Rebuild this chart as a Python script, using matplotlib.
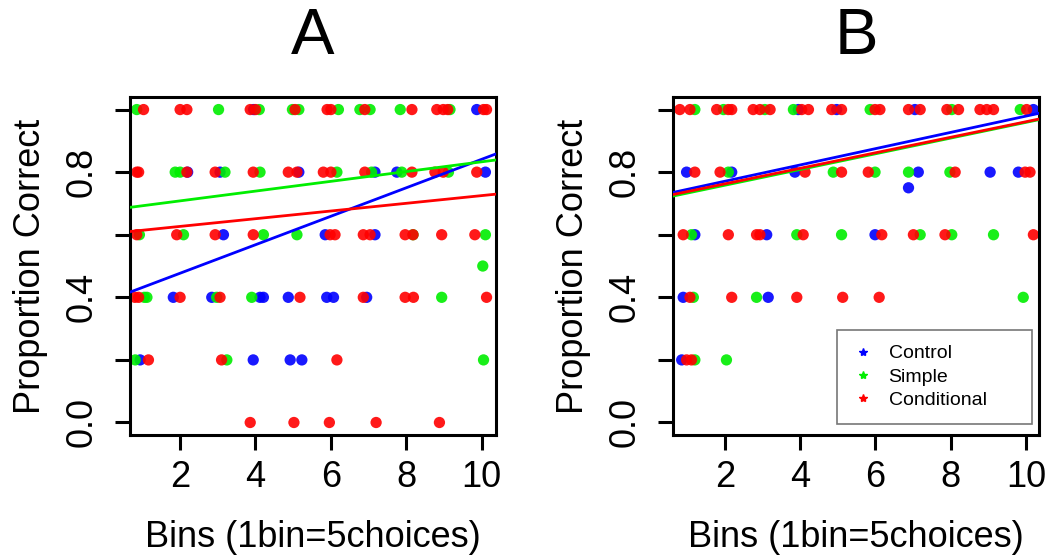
import matplotlib
matplotlib.use("Agg")
import matplotlib.pyplot as plt
from matplotlib.lines import Line2D

plt.rcParams['font.family'] = ['Liberation Sans', 'DejaVu Sans']

groups = ["Control", "Simple", "Conditional"]
colors = {"Control": "#0000FF", "Simple": "#00EE00", "Conditional": "#FF0000"}

# ---------------- Panel A data (jittered bins, proportion correct) ----------------
A_control_x = [3.95, 9.87, 2.2, 3.06, 5.15, 7.17, 7.75, 10.1, 3.15, 5.85, 7.17,
               1.82, 2.84, 4.12, 4.21, 4.87, 5.89, 6.07, 6.95, 0.94, 3.94, 4.92, 5.23]
A_control_y = [1.0, 1.0, 0.8, 0.8, 0.8, 0.8, 0.8, 0.8, 0.6, 0.6, 0.6,
               0.4, 0.4, 0.4, 0.4, 0.4, 0.4, 0.4, 0.4, 0.2, 0.2, 0.2, 0.2]

A_simple_x = [0.85, 3.02, 4.1, 4.98, 5.15, 6.2, 6.77, 7.04, 7.84, 9.16,
              1.87, 2.0, 3.19, 4.12, 6.16, 7.08, 7.88, 9.12,
              0.92, 2.09, 4.21, 5.1, 8.18, 10.1, 10.03,
              1.05, 1.12, 2.97, 3.9, 8.94, 0.81, 3.24, 10.05]
A_simple_y = [1.0, 1.0, 1.0, 1.0, 1.0, 1.0, 1.0, 1.0, 1.0, 1.0,
              0.8, 0.8, 0.8, 0.8, 0.8, 0.8, 0.8, 0.8,
              0.6, 0.6, 0.6, 0.6, 0.6, 0.6, 0.5,
              0.4, 0.4, 0.4, 0.4, 0.4, 0.2, 0.2, 0.2]

A_cond_x = [1.03, 2.0, 2.18, 3.86, 4.0, 5.05, 5.9, 6.0, 6.9, 8.15, 8.81, 8.98, 9.1, 10.05, 10.13,
            0.85, 0.9, 2.18, 2.93, 3.94, 4.87, 5.1, 5.8, 6.0, 6.9, 8.15, 8.76, 8.98, 9.87,
            0.85, 1.91, 2.93, 3.94, 5.98, 6.11, 6.86, 7.04, 7.97, 8.18, 8.94, 9.82,
            0.8, 0.9, 2.0, 3.06, 5.18, 6.86, 7.97, 8.19, 10.13,
            1.16, 3.1, 6.16,
            3.86, 5.02, 5.96, 7.2, 8.88]
A_cond_y = [1.0] * 15 + [0.8] * 14 + [0.6] * 12 + [0.4] * 9 + [0.2] * 3 + [0.0] * 5

# ---------------- Panel B data ----------------
B_control_x = [3.95, 4.97, 7.05, 10.2, 0.98, 2.18, 3.86, 7.14, 9.05, 9.8, 6.88,
               1.2, 3.11, 5.99, 0.89, 3.15, 0.85]
B_control_y = [1.0, 1.0, 1.0, 1.0, 0.8, 0.8, 0.8, 0.8, 0.8, 0.8, 0.75,
               0.6, 0.6, 0.6, 0.4, 0.4, 0.2]

B_simple_x = [1.2, 1.96, 3.06, 3.82, 5.86, 8.03, 9.85,
              2.09, 4.88, 5.99, 6.88, 7.98,
              1.11, 3.91, 5.1, 7.19, 8.03, 9.14,
              1.16, 2.84, 9.93, 1.2, 2.04]
B_simple_y = [1.0] * 7 + [0.8] * 5 + [0.6] * 6 + [0.4] * 3 + [0.2] * 2

B_cond_x = [0.8, 1.07, 1.78, 2.09, 2.18, 2.75, 2.93, 3.2, 4.04, 4.22, 4.84, 5.1, 5.99, 6.12,
            6.88, 7.19, 7.9, 8.21, 8.78, 8.96, 9.14, 10.02,
            1.2, 1.87, 4.13, 5.1, 5.81, 8.12, 9.98, 10.11,
            0.89, 2.09, 2.84, 2.93, 4.08, 6.17, 7.01, 7.85, 10.2,
            1.07, 2.18, 3.91, 5.13, 6.1,
            0.98, 1.11]
B_cond_y = [1.0] * 22 + [0.8] * 8 + [0.6] * 9 + [0.4] * 5 + [0.2] * 2

# ---------------- Regression lines (intercept, slope) ----------------
A_intercepts = [0.386, 0.677, 0.602]
A_slopes = [0.0455, 0.0156, 0.0123]
B_intercepts = [0.719, 0.708, 0.713]
B_slopes = [0.026, 0.0251, 0.0248]

x_ticks = [2, 4, 6, 8, 10]
y_ticks = [0.0, 0.4, 0.8]
y_minor_ticks = [0.2, 0.6, 1.0]

fig = plt.figure(figsize=(10.49, 5.58), dpi=100)
axA = fig.add_axes([0.1239, 0.2204, 0.3489, 0.6057])
axB = fig.add_axes([0.6416, 0.2204, 0.3489, 0.6057])

panels = [
    (axA, "A", (0.67, 10.38),
     [(A_control_x, A_control_y), (A_simple_x, A_simple_y), (A_cond_x, A_cond_y)],
     A_intercepts, A_slopes),
    (axB, "B", (0.62, 10.35),
     [(B_control_x, B_control_y), (B_simple_x, B_simple_y), (B_cond_x, B_cond_y)],
     B_intercepts, B_slopes),
]

for ax, title, xlim, data, ints, slopes in panels:
    for g, (xs, ys) in zip(groups, data):
        ax.scatter(xs, ys, s=66, color=colors[g], edgecolors='none', alpha=0.9, zorder=2)
    for g, b, m in zip(groups, ints, slopes):
        ax.axline((0, b), slope=m, color=colors[g], lw=2.0, zorder=3)
    ax.set_xlim(*xlim)
    ax.set_ylim(-0.04, 1.04)
    ax.set_xticks(x_ticks)
    ax.set_xticklabels([str(t) for t in x_ticks])
    all_y = sorted(y_ticks + y_minor_ticks)
    ax.set_yticks(all_y)
    ax.set_yticklabels([f"{t:.1f}" if t in y_ticks else "" for t in all_y],
                       rotation=90, va='center')
    for sp in ax.spines.values():
        sp.set_linewidth(2.2)
    ax.tick_params(axis='both', length=10.8, width=2.2, labelsize=26, direction='out')
    ax.tick_params(axis='x', pad=7)
    ax.tick_params(axis='y', pad=11)
    ax.set_xlabel("Bins (1bin=5choices)", fontsize=26, labelpad=18)
    ax.set_ylabel("Proportion Correct", fontsize=26, labelpad=12)
    ax.set_title(title, fontsize=47, pad=31)

handles = [Line2D([], [], marker='*', linestyle='none', color=colors[g], markersize=6)
           for g in groups]
leg = axB.legend(handles, groups, loc='lower left', bbox_to_anchor=(0.448, 0.033, 0.533, 0.28),
                 mode='expand', borderaxespad=0, fontsize=14, frameon=True, fancybox=False,
                 handlelength=1.2, handletextpad=0.7, borderpad=0.75, labelspacing=0.3)
leg.get_frame().set_edgecolor('#555555')
leg.get_frame().set_linewidth(1.2)

fig.savefig("out.png", dpi=100)
